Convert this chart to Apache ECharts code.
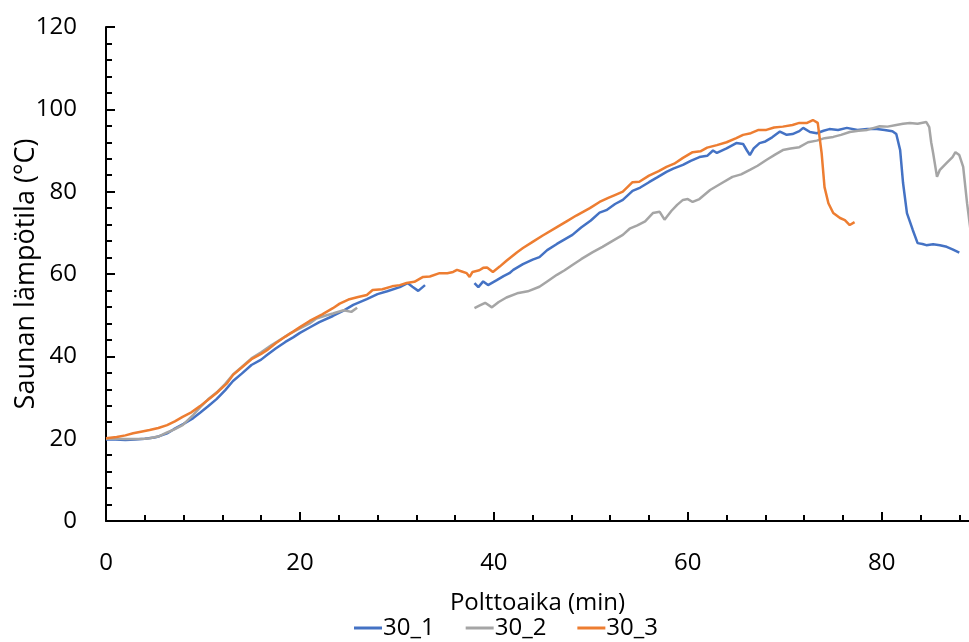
<!DOCTYPE html>
<html><head><meta charset="utf-8">
<script src="https://cdn.jsdelivr.net/npm/echarts@6/dist/echarts.min.js"></script>
<style>html,body{margin:0;padding:0;background:#fff}#c{width:969px;height:642px}</style>
</head><body><div id="c"></div>
<script>
const seriesNames = ['30_1', '30_2', '30_3'];
const xTickLabels = [0, 20, 40, 60, 80];
const xMinorTicks = [4, 8, 12, 16, 24, 28, 32, 36, 44, 48, 52, 56, 64, 68, 72, 76, 84, 88];

const x1 = [0,1,2,3,4,5,5.5,6.3,7,8,9,9.7,10.5,11.4,12.3,13.1,14,15,16,16.6,17.5,18.5,19.3,20,21,22,23.4,24.5,25.5,26.9,28,29,30.3,31.1,31.6,32.2,32.9,null,
  38,38.4,38.9,39.4,40.3,41,41.6,42,43,44,44.7,45.5,46.5,47.3,48.1,49,50,50.9,51.6,52.5,53.3,54.3,55.1,56,56.8,57.8,58.5,59.5,60.3,61.2,62,62.6,63,64,65,65.7,66.1,66.4,66.8,67.4,68,68.7,69.5,70.2,70.8,71.5,71.9,72.6,73.3,74,74.6,75.5,76.4,77.5,78.5,79.5,80.3,81.1,81.5,81.9,82.2,82.6,83.2,83.7,84.2,84.6,85.3,86,86.7,87.3,88];
const y1 = [19.8,19.8,19.7,19.8,20,20.3,20.6,21.3,22.3,23.6,25,26.3,27.8,29.6,31.8,34,35.8,37.9,39.2,40.3,41.9,43.5,44.6,45.7,47,48.3,49.8,51.1,52.5,53.9,55.1,55.8,56.8,57.8,56.9,55.9,57.3,null,
  57.8,56.8,58.2,57.3,58.5,59.5,60.2,61,62.4,63.5,64.1,65.8,67.3,68.4,69.5,71.3,73,74.9,75.5,77,78,80.2,81,82.3,83.4,84.8,85.6,86.5,87.5,88.4,88.7,90,89.4,90.5,91.8,91.6,90,88.9,90.5,91.8,92.2,93.2,94.6,93.8,94,94.7,95.5,94.5,94.2,94.8,95.2,95,95.5,95,95.2,95.2,95,94.7,94,90.1,82.1,74.8,70.7,67.5,67.3,67,67.2,67,66.6,66,65.2];

const x2 = [0,1,2,3,4,4.5,5.5,6.3,7,7.9,9,9.7,10.5,11.4,12.3,13.1,14,15,16,17,18.2,19,20,21,21.7,22.5,23.4,24.5,25.3,25.9,null,
  38,38.5,39.1,39.8,40.5,41.3,42.4,43.5,44.7,45.5,46.5,47.3,48.1,49,50.2,51.2,52.2,53.3,54,54.8,55.6,56.4,57.1,57.6,58.3,58.9,59.5,60,60.5,61.2,62.3,63.3,64.6,65.5,66.4,67.2,68.1,69,69.8,70.6,71.5,72.4,73.3,74.1,75,75.8,76.7,77.6,78.5,79.2,79.8,80.6,81.5,82.2,82.9,83.7,84.6,84.9,85.1,85.3,85.7,86,86.7,87.3,87.6,88,88.4,88.8,89.3];
const y2 = [20,20,19.9,19.9,20,20.1,20.6,21.5,22.2,23.3,25.8,27.6,29.5,31.2,33.3,35.6,37.4,39.5,41,42.6,44.4,45.6,46.8,48,49.2,49.8,50.4,51.2,50.8,51.8,null,
  51.7,52.3,53,51.9,53.2,54.3,55.3,55.8,56.9,58.2,59.8,60.9,62.2,63.6,65.3,66.6,68,69.5,71,71.8,72.8,74.8,75.1,73.2,75.3,76.8,78,78.2,77.5,78.2,80.4,81.8,83.6,84.2,85.3,86.3,87.7,89,90.1,90.5,90.8,92,92.4,93,93.3,93.8,94.5,94.8,95,95.5,95.9,95.8,96.2,96.5,96.7,96.5,96.9,95.7,92,89.4,83.6,85.3,87,88.4,89.6,88.9,86,77.2,68];

const x3 = [0,1.1,2,2.8,3.6,4.5,5.4,6.3,7.1,7.9,8.8,9.7,10.5,11.4,12.5,13.1,14,15,16,16.6,17.5,18.5,19.3,20,21,22.3,23.4,24.1,25,26,26.9,27.5,28.5,29.5,30.3,31,31.8,32.7,33.4,34.4,35.2,35.8,36.2,36.7,37.2,37.5,37.8,38.5,38.9,39.3,39.9,40.6,41.3,42.4,43,44,45,46.5,47.5,48.5,49.9,50.9,51.8,52.6,53.3,54.3,55,56,57,57.8,58.6,59.5,60.5,61.3,62,63,64,65,65.7,66.5,67.3,68.1,68.9,69.8,70.8,71.5,72.3,72.9,73.4,73.8,74.1,74.5,75,75.7,76.2,76.7,77.2];
const y3 = [20.1,20.4,20.8,21.3,21.7,22.1,22.6,23.3,24.2,25.3,26.4,27.9,29.4,31.1,33.5,35.5,37.3,39.3,40.6,41.5,43.2,44.8,46,47.1,48.6,50.2,51.7,52.8,53.8,54.4,54.9,56.1,56.3,57,57.3,57.8,58.1,59.3,59.4,60.2,60.2,60.5,61,60.6,60.2,59.3,60.5,60.9,61.5,61.6,60.5,61.8,63.2,65.3,66.3,67.8,69.3,71.4,72.8,74.2,76,77.5,78.5,79.3,80,82.3,82.4,83.9,85,86,86.8,88.2,89.6,89.8,90.7,91.3,92,93,93.8,94.2,95,95,95.6,95.8,96.2,96.7,96.7,97.4,96.7,89.4,81.1,77.2,74.8,73.6,73.1,71.9,72.6];

const colors = ['#4472C4', '#A5A5A5', '#ED7D31'];
const xs = [x1, x2, x3], ys = [y1, y2, y3];
function pairs(xa, ya) { return xa.map((x, i) => (x === null ? [null, null] : [x, ya[i]])); }

const font = 'Open Sans';
const fs = 24;
const chart = echarts.init(document.getElementById('c'), null, { renderer: 'canvas' });
chart.setOption({
  animation: false,
  textStyle: { fontFamily: font },
  grid: { left: 106, right: 0, top: 27, bottom: 121, containLabel: false, outerBoundsMode: 'none' },
  legend: {
    bottom: -3, left: 349, itemWidth: 28, itemHeight: 3, itemGap: 31,
    textStyle: { fontSize: fs, color: '#000', fontFamily: font, padding: [0, 0, 0, -4] },
    data: seriesNames.map((n, i) => ({ name: n, icon: 'rect', itemStyle: { color: colors[i] } }))
  },
  xAxis: [{
    type: 'value', min: 0, max: 89, position: 'bottom',
    name: 'Polttoaika (min)', nameLocation: 'middle', nameGap: 70, nameMoveOverlap: false,
    nameTextStyle: { fontSize: fs, color: '#000', fontFamily: font },
    axisLine: { show: true, onZero: false, lineStyle: { color: '#000', width: 2 } },
    axisTick: { show: true, inside: true, length: 9, customValues: xTickLabels, lineStyle: { color: '#000', width: 2 } },
    axisLabel: { customValues: xTickLabels, fontSize: fs, color: '#000', margin: 30, fontFamily: font },
    splitLine: { show: false }
  }, {
    type: 'value', min: 0, max: 89, position: 'bottom',
    axisLine: { show: false },
    axisTick: { show: true, inside: true, length: 6, customValues: xMinorTicks, lineStyle: { color: '#000', width: 2 } },
    axisLabel: { show: false },
    splitLine: { show: false }
  }],
  yAxis: {
    type: 'value', min: 0, max: 120, interval: 20,
    name: 'Saunan lämpötila (°C)', nameLocation: 'middle', nameGap: 66, nameMoveOverlap: false,
    nameTextStyle: { fontSize: 27, color: '#000', fontFamily: font },
    axisLine: { show: true, lineStyle: { color: '#000', width: 2 } },
    axisTick: { show: true, inside: true, length: 9, lineStyle: { color: '#000', width: 2 } },
    minorTick: { show: true, splitNumber: 5, length: 6, lineStyle: { color: '#000', width: 2 } },
    axisLabel: { fontSize: fs, color: '#000', margin: 29, fontFamily: font },
    splitLine: { show: false }
  },
  series: seriesNames.map((n, i) => ({
    name: n, type: 'line', xAxisIndex: 0, symbol: 'none', showSymbol: false,
    connectNulls: false, clip: true,
    lineStyle: { color: colors[i], width: 2.5 }, itemStyle: { color: colors[i] },
    data: pairs(xs[i], ys[i])
  }))
});
</script></body></html>
